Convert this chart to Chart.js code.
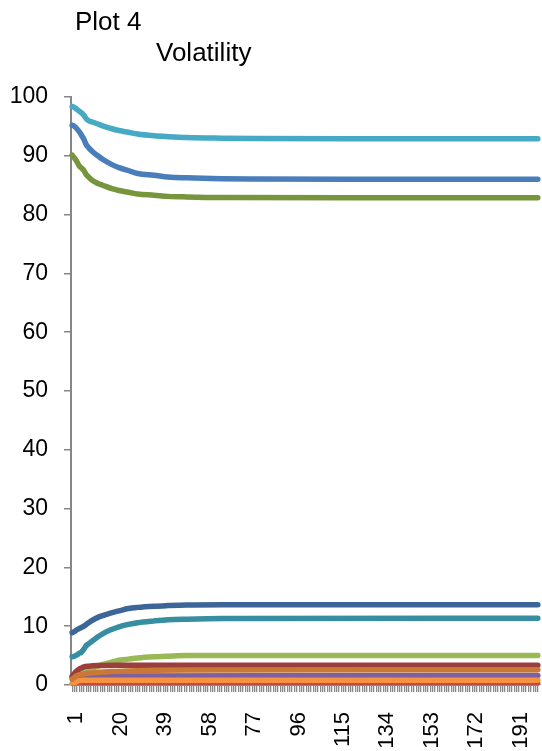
<!DOCTYPE html>
<html>
<head>
<meta charset="utf-8">
<script src="https://cdn.jsdelivr.net/npm/chart.js@4.4.1/dist/chart.umd.min.js"></script>
<style>
  body { margin: 0; background: #fff; }
  canvas { display: block; }
</style>
</head>
<body>
<canvas id="myChart" width="542" height="751"></canvas>
<script>
// categories 1..200 along the x axis
var categories = [];
for (var i = 1; i <= 200; i++) categories.push(String(i));

var plotLabel = 'Plot 4';
var chartTitle = 'Volatility';

// [category, value] pairs
var blueSeries = [[1, 95.2], [2, 95.0], [3, 94.6], [4, 94.1], [5, 93.5], [6, 92.8], [7, 91.9], [8, 91.4], [10, 90.6], [12, 90.0], [14, 89.4], [18, 88.5], [21, 88.0], [25, 87.5], [29, 87.0], [36, 86.7], [42, 86.4], [50, 86.25], [65, 86.1], [80, 86.05], [120, 86.0], [200, 86.0]];
var redSeries = [[1, 0.15], [10, 0.2], [200, 0.2]];
var greenSeries = [[1, 0.2], [2, 0.9], [3, 1.4], [4, 1.7], [5, 1.9], [6, 2.1], [8, 2.5], [10, 2.9], [12, 3.2], [14, 3.5], [18, 3.9], [21, 4.2], [25, 4.4], [29, 4.6], [36, 4.8], [42, 4.9], [50, 5.0], [200, 5.0]];
var purpleSeries = [[1, 1.2], [2, 1.4], [4, 1.5], [10, 1.55], [200, 1.6]];
var aquaSeries = [[1, 98.4], [2, 98.2], [3, 97.9], [4, 97.6], [5, 97.3], [6, 96.9], [7, 96.3], [8, 96.0], [10, 95.7], [12, 95.4], [14, 95.1], [18, 94.6], [21, 94.3], [25, 94.0], [29, 93.7], [36, 93.4], [42, 93.25], [50, 93.1], [65, 93.0], [80, 92.95], [120, 92.9], [200, 92.9]];
var orangeSeries = [[1, 0.0], [2, 0.3], [3, 0.6], [4, 0.75], [6, 0.8], [200, 0.8]];
var darkBlueSeries = [[1, 8.9], [2, 9.1], [3, 9.4], [4, 9.6], [5, 9.8], [6, 10.0], [7, 10.3], [8, 10.6], [10, 11.1], [12, 11.5], [14, 11.8], [17, 12.2], [21, 12.6], [25, 13.0], [29, 13.2], [36, 13.4], [42, 13.5], [50, 13.6], [65, 13.65], [200, 13.65]];
var darkRedSeries = [[1, 1.5], [2, 2.0], [3, 2.4], [4, 2.7], [5, 2.9], [6, 3.1], [8, 3.2], [12, 3.3], [20, 3.35], [200, 3.35]];
var oliveSeries = [[1, 90.1], [2, 89.6], [3, 89.0], [4, 88.3], [5, 87.9], [6, 87.5], [7, 86.8], [8, 86.4], [10, 85.7], [12, 85.3], [14, 85.0], [18, 84.4], [21, 84.1], [25, 83.8], [29, 83.5], [36, 83.3], [42, 83.1], [50, 83.0], [65, 82.9], [120, 82.85], [200, 82.85]];
var tealSeries = [[1, 4.8], [2, 4.9], [3, 5.1], [4, 5.4], [5, 5.6], [6, 6.1], [7, 6.7], [8, 7.0], [10, 7.6], [12, 8.2], [14, 8.7], [17, 9.3], [21, 9.9], [25, 10.3], [29, 10.6], [36, 10.9], [42, 11.1], [50, 11.2], [65, 11.3], [200, 11.35]];
var darkOrangeSeries = [[1, 1.0], [2, 1.3], [3, 1.6], [5, 1.8], [8, 2.0], [12, 2.15], [18, 2.3], [25, 2.4], [36, 2.5], [50, 2.55], [200, 2.6]];

function toPoints(pairs) {
    return pairs.map(function (p) { return { x: String(p[0]), y: p[1] }; });
}

function line(pairs, color) {
    return {
        data: toPoints(pairs),
        borderColor: color,
        backgroundColor: color,
        borderWidth: 5.5,
        pointRadius: 0,
        fill: false,
        borderCapStyle: 'round',
        borderJoinStyle: 'round',
        cubicInterpolationMode: 'monotone'
    };
}

// series in the spreadsheet order, the later ones drawn on top
var datasets = [
    line(blueSeries, '#4A7EBB'),
    line(redSeries, '#BE4B48'),
    line(greenSeries, '#98B954'),
    line(purpleSeries, '#7D60A0'),
    line(aquaSeries, '#46AAC5'),
    line(orangeSeries, '#F69240'),
    line(darkBlueSeries, '#3C6598'),
    line(darkRedSeries, '#9C3E3B'),
    line(oliveSeries, '#76953D'),
    line(tealSeries, '#378EA1'),
    line(darkOrangeSeries, '#C97835')
];
datasets.forEach(function (d, i) { d.order = datasets.length - i; });

var titles = {
    id: 'titles',
    afterDraw: function (chart) {
        var c = chart.ctx;
        c.save();
        c.fillStyle = '#000';
        c.font = '26px "Liberation Sans", Arial, sans-serif';
        c.textBaseline = 'alphabetic';
        c.fillText(plotLabel, 75, 30);
        c.fillText(chartTitle, 156, 61);
        c.restore();
    }
};

var ctx = document.getElementById('myChart').getContext('2d');
var myChart = new Chart(ctx, {
    type: 'line',
    data: {
        labels: categories,
        datasets: datasets
    },
    plugins: [titles],
    options: {
        responsive: false,
        animation: false,
        layout: { padding: { top: 97, right: 3, left: 0, bottom: 0 } },
        plugins: {
            legend: { display: false },
            tooltip: { enabled: false }
        },
        scales: {
            x: {
                offset: true,
                border: { color: '#868686', width: 1 },
                grid: { drawOnChartArea: false, drawTicks: true, tickLength: 7, color: '#888888', lineWidth: 1.3 },
                ticks: {
                    autoSkip: false,
                    minRotation: 90,
                    maxRotation: 90,
                    padding: 20,
                    labelOffset: 4,
                    color: '#000',
                    font: { family: '"Liberation Sans", Arial, sans-serif', size: 22 },
                    callback: function (v, i) { return i % 19 === 0 ? categories[i] : ''; }
                },
                afterFit: function (s) {
                    s.height = 66;
                    s.paddingLeft = 0;
                    s.paddingRight = 0;
                }
            },
            y: {
                min: 0,
                max: 100,
                border: { color: '#868686', width: 2 },
                grid: { drawOnChartArea: false, drawTicks: true, tickLength: 7, color: '#868686', lineWidth: 1.5 },
                ticks: {
                    stepSize: 10,
                    padding: 16,
                    color: '#000',
                    font: { family: '"Liberation Sans", Arial, sans-serif', size: 23 }
                },
                afterFit: function (s) { s.width = 71; }
            }
        }
    }
});
</script>
</body>
</html>
